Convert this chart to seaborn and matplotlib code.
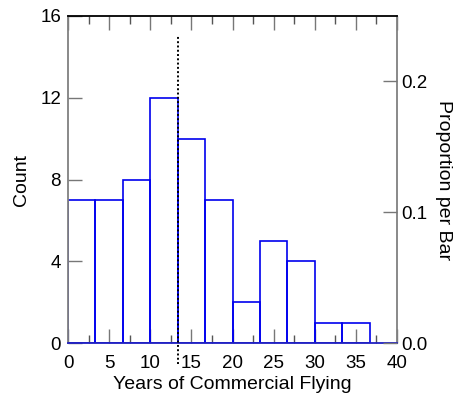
import numpy as np
import pandas as pd
import matplotlib
matplotlib.use("Agg")
import matplotlib.pyplot as plt
from matplotlib.ticker import MultipleLocator
import seaborn as sns

# Data
bin_edges = [0, 10/3, 20/3, 10, 40/3, 50/3, 20, 70/3, 80/3, 30, 100/3, 110/3]
counts = [7, 7, 8, 12, 10, 7, 2, 5, 4, 1, 1]
median_years = 13.4
median_line_span = (-1, 15)
x_ticks = [0, 5, 10, 15, 20, 25, 30, 35, 40]
y_ticks = [0, 4, 8, 12, 16]
prop_ticks = [0.0, 0.1, 0.2]
prop_labels = ["0.0", "0.1", "0.2"]

sns.set_style("white")
plt.rcParams["font.family"] = ["Liberation Sans", "DejaVu Sans"]
plt.rcParams["font.size"] = 14
plt.rcParams["text.color"] = "black"
plt.rcParams["axes.labelcolor"] = "black"

edges = np.array(bin_edges)
centers = (edges[:-1] + edges[1:]) / 2
df = pd.DataFrame({"years": centers, "count": counts})

fig = plt.figure(figsize=(4.6, 3.94), dpi=100)
ax = fig.add_axes([68/460, 1 - 343.3/394, (397 - 68)/460, (343.3 - 16)/394])

sns.histplot(data=df, x="years", weights="count", bins=list(bin_edges), fill=False,
             color="#0000ee", linewidth=1.2, ax=ax)

ax.vlines(median_years, median_line_span[0], median_line_span[1], colors="black",
          linestyles=(0, (1, 1.2)), linewidth=1.4, clip_on=False, zorder=5)

ax.set_xlim(0, 40)
ax.set_ylim(0, 16)
ax.set_xticks(x_ticks)
ax.set_yticks(y_ticks)
ax.xaxis.set_minor_locator(MultipleLocator(2.5))
ax.tick_params(axis="x", which="major", direction="in", length=10, width=1,
               color="#777777", labelcolor="black", top=True, bottom=True,
               pad=8.5, labelsize=13.5)
ax.tick_params(axis="x", which="minor", direction="in", length=6, width=1,
               color="#555555", top=True, bottom=True)
ax.tick_params(axis="y", which="major", direction="in", length=10, width=1,
               color="#777777", labelcolor="black", left=True, pad=5, labelsize=13.5)
ax.set_xlabel("Years of Commercial Flying", fontsize=14, labelpad=3, color="black")
ax.set_ylabel("Count", fontsize=14, labelpad=7, color="black")

for side, col in [("left", "#808080"), ("right", "#808080"), ("top", "black"), ("bottom", "#2020c0")]:
    ax.spines[side].set_color(col)
    ax.spines[side].set_linewidth(1.3)
    ax.spines[side].set_visible(True)

ax2 = ax.twinx()
ax2.set_ylim(0, 16 / sum(counts))
ax2.set_yticks(prop_ticks)
ax2.set_yticklabels(prop_labels)
ax2.tick_params(axis="y", which="major", direction="in", length=10, width=1,
                color="#777777", labelcolor="black", right=True, pad=3, labelsize=13.5)
ax2.set_ylabel("Proportion per Bar", fontsize=14, rotation=-90, labelpad=18, color="black")
for side in ["left", "right", "top", "bottom"]:
    ax2.spines[side].set_visible(False)

fig.savefig("out.png", dpi=100)
